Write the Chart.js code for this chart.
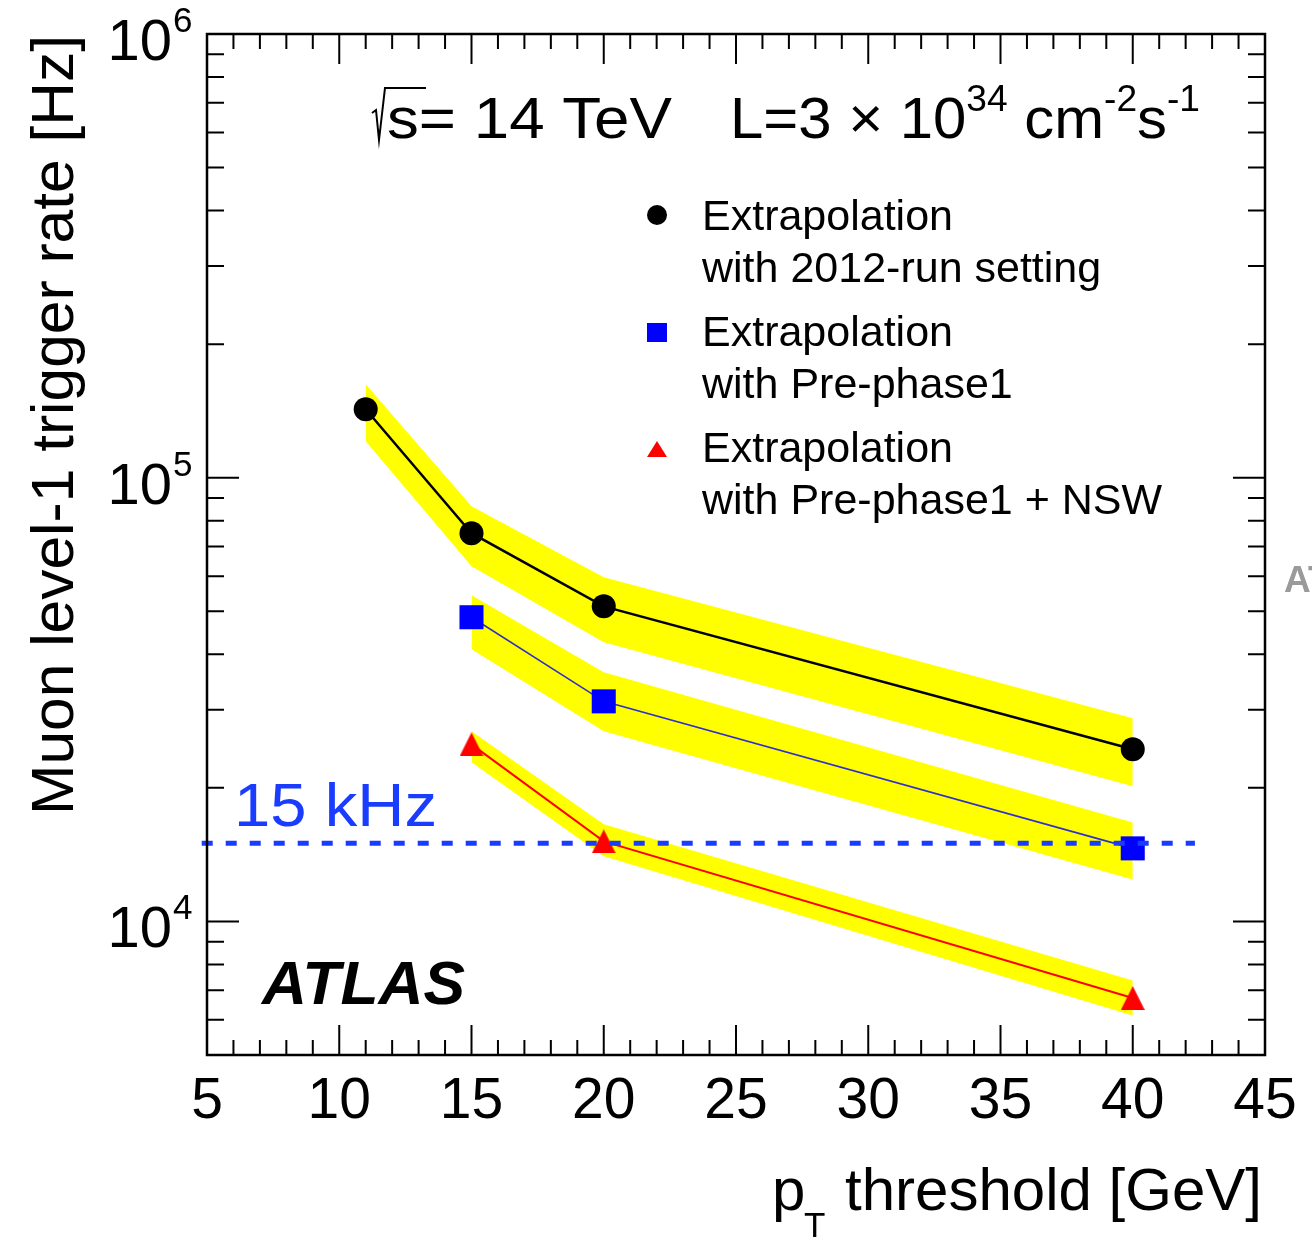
<!DOCTYPE html>
<html>
<head>
<meta charset="utf-8">
<script src="https://cdn.jsdelivr.net/npm/chart.js@4"></script>
<style>
body { margin: 0; background: #fff; overflow: hidden; }
canvas { display: block; }
</style>
</head>
<body>
<canvas id="myChart" width="1312" height="1238"></canvas>
<script>
const FONT = '"Liberation Sans", Arial, Helvetica, sans-serif'

// pT thresholds [GeV]
const ptBlack = [11, 15, 20, 40]
const ptBlue = [15, 20, 40]
const ptRed = [15, 20, 40]

// level-1 rates [Hz]
const rateBlack = [142700, 74980, 51300, 24430]
const rateBlue = [48480, 31330, 14610]
const rateRed = [25060, 15150, 6720]

// yellow uncertainty bands
const blackHi = [162500, 86250, 59660, 28690]
const blackLo = [120900, 63150, 42560, 20160]
const blueHi = [54330, 36420, 16720]
const blueLo = [41050, 26820, 12430]
const redHi = [26820, 16550, 7360]
const redLo = [22830, 14020, 6135]

// 15 kHz budget line
const limitRate = 15000
const limitX = [4.8, 42.35]

const xTicks = [5, 10, 15, 20, 25, 30, 35, 40, 45]
const yDecades = [4, 5, 6]
const legendText = [
    ["Extrapolation", "with 2012-run setting"],
    ["Extrapolation", "with Pre-phase1"],
    ["Extrapolation", "with Pre-phase1 + NSW"]
]

const pts = (xs, ys) => xs.map((x, i) => ({ x: x, y: ys[i] }))

const triangleImg = (w, h, color) => {
    const c = document.createElement("canvas")
    c.width = w
    c.height = h
    const g = c.getContext("2d")
    g.fillStyle = color
    g.beginPath()
    g.moveTo(w / 2, 0)
    g.lineTo(w, h)
    g.lineTo(0, h)
    g.closePath()
    g.fill()
    return c
}

const band = (xs, hi, lo) => [
    { data: pts(xs, hi), fill: "+1", backgroundColor: "#ffff00", borderColor: "rgba(0,0,0,0)", borderWidth: 0, pointRadius: 0, order: 10 },
    { data: pts(xs, lo), fill: false, borderColor: "rgba(0,0,0,0)", borderWidth: 0, pointRadius: 0, order: 11 }
]

// text squeezed/stretched to a given width
const fitText = (ctx, txt, x, y, w, font) => {
    ctx.font = font
    const m = ctx.measureText(txt).width
    ctx.save()
    ctx.translate(x, y)
    ctx.scale(w / m, 1)
    ctx.fillText(txt, 0, 0)
    ctx.restore()
}

const richText = (ctx, segs, x, y, w) => {
    let total = 0
    segs.forEach(s => { ctx.font = s.font; total += ctx.measureText(s.t).width })
    ctx.save()
    ctx.translate(x, y)
    ctx.scale(w / total, 1)
    let cx = 0
    segs.forEach(s => {
        ctx.font = s.font
        ctx.fillText(s.t, cx, -(s.dy || 0))
        cx += ctx.measureText(s.t).width
    })
    ctx.restore()
}

const decorations = {
    id: "decorations",
    afterDraw(chart) {
        const ctx = chart.ctx
        const xs = chart.scales.x
        const ys = chart.scales.y
        const a = chart.chartArea
        ctx.save()
        ctx.strokeStyle = "#000"
        ctx.fillStyle = "#000"
        ctx.textAlign = "left"
        ctx.textBaseline = "alphabetic"

        // ticks
        ctx.lineWidth = 2
        ctx.beginPath()
        for (let v = 5; v <= 45; v++) {
            const px = xs.getPixelForValue(v)
            const len = v % 5 === 0 ? 30 : 15
            ctx.moveTo(px, a.bottom); ctx.lineTo(px, a.bottom - len)
            ctx.moveTo(px, a.top); ctx.lineTo(px, a.top + len)
        }
        for (let d = 3; d <= 6; d++) {
            for (let m = 1; m <= 9; m++) {
                const v = m * Math.pow(10, d)
                if (v < 5000 || v > 1e6) continue
                const py = ys.getPixelForValue(v)
                const len = m === 1 ? 32 : 17
                ctx.moveTo(a.left, py); ctx.lineTo(a.left + len, py)
                ctx.moveTo(a.right, py); ctx.lineTo(a.right - len, py)
            }
        }
        ctx.stroke()

        // frame
        ctx.lineWidth = 2.5
        ctx.strokeRect(a.left, a.top, a.right - a.left, a.bottom - a.top)

        // x tick labels
        ctx.font = "57px " + FONT
        ctx.textAlign = "center"
        xTicks.forEach(v => ctx.fillText(String(v), xs.getPixelForValue(v), 1118))
        ctx.textAlign = "left"

        // y tick labels 10^n
        yDecades.forEach(d => {
            const py = ys.getPixelForValue(Math.pow(10, d))
            ctx.font = "58px " + FONT
            ctx.textAlign = "right"
            ctx.fillText("10", 172, py + 26)
            ctx.textAlign = "left"
            ctx.font = "35px " + FONT
            ctx.fillText(String(d), 173, py - 2)
        })

        // axis titles
        ctx.save()
        ctx.translate(73, 815)
        ctx.rotate(-Math.PI / 2)
        fitText(ctx, "Muon level-1 trigger rate [Hz]", 0, 0, 780, "60px " + FONT)
        ctx.restore()
        ctx.font = "60px " + FONT
        ctx.fillText("p", 772, 1210)
        ctx.font = "35px " + FONT
        ctx.fillText("T", 804, 1237)
        fitText(ctx, "threshold [GeV]", 845, 1210, 417, "60px " + FONT)

        // sqrt(s) and luminosity
        ctx.lineWidth = 2
        ctx.beginPath()
        ctx.moveTo(372, 113); ctx.lineTo(376, 110); ctx.lineTo(379, 140); ctx.lineTo(385, 88); ctx.lineTo(426, 88)
        ctx.stroke()
        fitText(ctx, "s= 14 TeV", 387, 138, 285, "58px " + FONT)
        const big = "58px " + FONT
        const sup = "36px " + FONT
        richText(ctx, [
            { t: "L=3 \u00d7 10", font: big },
            { t: "34", font: sup, dy: 27 },
            { t: " cm", font: big },
            { t: "-2", font: sup, dy: 27 },
            { t: "s", font: big },
            { t: "-1", font: sup, dy: 27 }
        ], 730, 138, 470)

        // legend
        ctx.fillStyle = "#000"
        ctx.beginPath(); ctx.arc(657, 215, 10, 0, Math.PI * 2); ctx.fill()
        ctx.fillStyle = "#0000ff"
        ctx.fillRect(647, 323, 20, 19)
        ctx.fillStyle = "#ff0000"
        ctx.beginPath(); ctx.moveTo(657, 441); ctx.lineTo(667, 457); ctx.lineTo(647, 457); ctx.closePath(); ctx.fill()
        ctx.fillStyle = "#000"
        ctx.font = "43px " + FONT
        const base = [230, 346, 462]
        legendText.forEach((pair, i) => {
            ctx.fillText(pair[0], 702, base[i])
            ctx.fillText(pair[1], 702, base[i] + 52)
        })

        // 15 kHz label
        ctx.fillStyle = "#1a3cff"
        fitText(ctx, "15 kHz", 234, 826, 203, "62px " + FONT)

        // ATLAS
        ctx.fillStyle = "#000"
        fitText(ctx, "ATLAS", 262, 1004, 203, "italic bold 62px " + FONT)
        ctx.fillStyle = "#9a9a9a"
        ctx.font = "bold 37px " + FONT
        ctx.fillText("ATLAS", 1284, 592)
        ctx.restore()
    }
}

const ctx = document.querySelector("#myChart").getContext("2d")

const myChart = new Chart(ctx, {
    type: "line",
    data: {
        datasets: [
            ...band(ptBlack, blackHi, blackLo),
            ...band(ptBlue, blueHi, blueLo),
            ...band(ptRed, redHi, redLo),
            {
                data: pts(ptBlack, rateBlack),
                borderColor: "#000", borderWidth: 2.5,
                pointStyle: "circle", pointRadius: 12,
                pointBackgroundColor: "#000", pointBorderWidth: 0,
                fill: false, order: 2
            },
            {
                data: pts(ptBlue, rateBlue),
                borderColor: "#3030c8", borderWidth: 1.6,
                pointStyle: "rect", pointRadius: 17,
                pointBackgroundColor: "#0000ff", pointBorderWidth: 0,
                fill: false, order: 2
            },
            {
                data: pts(ptRed, rateRed),
                borderColor: "#ff0000", borderWidth: 2,
                pointStyle: triangleImg(24, 24, "#ff0000"), pointRadius: 12,
                fill: false, order: 2
            },
            {
                data: limitX.map(x => ({ x: x, y: limitRate })),
                borderColor: "#1a3cff", borderWidth: 5, borderDash: [11, 13],
                pointRadius: 0, fill: false, clip: false, order: 0
            }
        ]
    },
    options: {
        responsive: false,
        devicePixelRatio: 1,
        animation: false,
        events: [],
        layout: { padding: { left: 207, top: 34, right: 47, bottom: 183 } },
        scales: {
            x: { type: "linear", min: 5, max: 45, display: false },
            y: { type: "logarithmic", min: 5000, max: 1000000, display: false }
        },
        plugins: {
            legend: { display: false },
            tooltip: { enabled: false }
        }
    },
    plugins: [decorations]
})
</script>
</body>
</html>
